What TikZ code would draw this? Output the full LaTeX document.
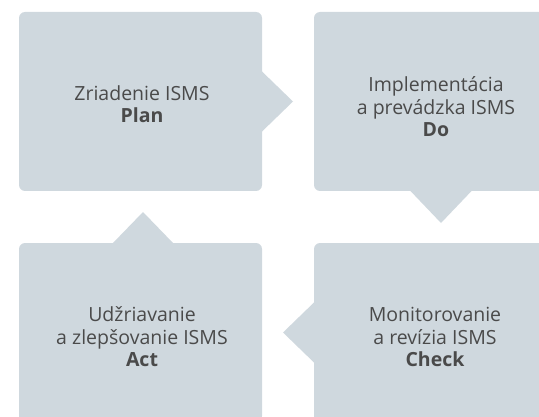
\documentclass[tikz,border=0pt]{standalone}
\usepackage{fontspec}
\setmainfont{Open Sans}
\definecolor{boxfill}{HTML}{CFD8DE}
\definecolor{txt}{HTML}{4A4A4A}
\begin{document}
\begin{tikzpicture}[x=1pt,y=1pt,
  panel/.style={draw=none,fill=boxfill,rounded corners=6pt,minimum width=243pt,minimum height=179pt,inner sep=0pt,outer sep=0pt},
  ptr/.style={fill=boxfill},
  lbl/.style={text=txt,align=center,inner sep=0pt,font=\fontsize{19.5}{22.5}\selectfont}
]
\useasboundingbox (0,0) rectangle (539,416);
\clip (0,0) rectangle (539,416);
\node[panel] (b1) at (140.5,314.5) {};
\node[panel] (b2) at (435.5,314.5) {};
\node[panel] (b3) at (435.5,83.5) {};
\node[panel] (b4) at (140.5,83.5) {};
% pointers
\fill[ptr] ([xshift=-1pt,yshift=31pt]b1.east) -- ([xshift=31pt]b1.east) -- ([xshift=-1pt,yshift=-31pt]b1.east) -- cycle;
\fill[ptr] ([xshift=-26pt,yshift=1pt]b2.south) -- ([xshift=5.5pt,yshift=-32pt]b2.south) -- ([xshift=37pt,yshift=1pt]b2.south) -- cycle;
\fill[ptr] ([xshift=1pt,yshift=31pt]b3.west) -- ([xshift=-31pt]b3.west) -- ([xshift=1pt,yshift=-31pt]b3.west) -- cycle;
\fill[ptr] ([xshift=-28.5pt,yshift=-1pt]b4.north) -- ([xshift=2.5pt,yshift=31pt]b4.north) -- ([xshift=33.5pt,yshift=-1pt]b4.north) -- cycle;
% labels
\node[lbl] (t1) at (142,312) {Zriadenie ISMS\\\textbf{Plan}};
\node[lbl] (t2) at (436,309) {Implementácia\\a prevádzka ISMS\\\textbf{Do}};
\node[lbl] (t3) at (435,79) {Monitorovanie\\a revízia ISMS\\\textbf{Check}};
\node[lbl] (t4) at (142,79) {Udžriavanie\\a zlepšovanie ISMS\\\textbf{Act}};
\end{tikzpicture}
\end{document}
